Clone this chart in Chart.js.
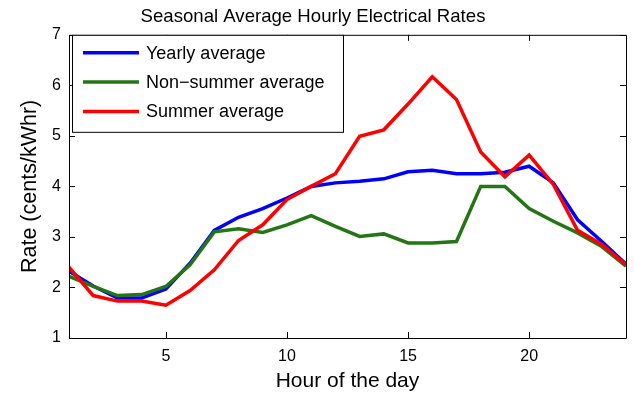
<!DOCTYPE html>
<html>
<head>
<meta charset="utf-8">
<script src="https://cdn.jsdelivr.net/npm/chart.js@4"></script>
<style>
  html, body { margin: 0; padding: 0; background: #fff; }
  #wrap { width: 634px; height: 406px; }
</style>
</head>
<body>
<div id="wrap"><canvas id="chart"></canvas></div>
<script>
const hours = [1, 2, 3, 4, 5, 6, 7, 8, 9, 10, 11, 12, 13, 14, 15, 16, 17, 18, 19, 20, 21, 22, 23, 24];
const yearly = [2.32, 2.03, 1.79, 1.79, 1.97, 2.48, 3.13, 3.39, 3.56, 3.77, 4.0, 4.07, 4.10, 4.15, 4.29, 4.32, 4.25, 4.25, 4.28, 4.40, 4.07, 3.34, 2.91, 2.46];
const nonSummer = [2.22, 2.02, 1.84, 1.86, 2.02, 2.45, 3.10, 3.16, 3.09, 3.24, 3.42, 3.21, 3.01, 3.06, 2.88, 2.88, 2.91, 4.0, 4.0, 3.56, 3.31, 3.08, 2.81, 2.42];
const summer = [2.40, 1.84, 1.73, 1.73, 1.65, 1.94, 2.35, 2.93, 3.24, 3.74, 4.0, 4.25, 4.99, 5.12, 5.63, 6.17, 5.72, 4.68, 4.19, 4.62, 4.04, 3.13, 2.85, 2.45];
const xTicks = [5, 10, 15, 20];
const yTicks = [1, 2, 3, 4, 5, 6, 7];

const FONT = 'Liberation Sans, Arial, Helvetica, sans-serif';

// MATLAB-style box with inward ticks, plus the legend box
const framePlugin = {
    id: 'frame',
    afterDatasetsDraw(chart) {
        const {ctx, chartArea: a, scales: {x, y}} = chart;
        const len = 6;
        ctx.save();
        ctx.strokeStyle = '#000';
        ctx.lineWidth = 1;
        ctx.beginPath();
        ctx.rect(a.left + 0.5, a.top + 0.5, a.right - a.left, a.bottom - a.top);
        xTicks.forEach(v => {
            const px = Math.round(x.getPixelForValue(v)) + 0.5;
            ctx.moveTo(px, a.bottom); ctx.lineTo(px, a.bottom - len);
            ctx.moveTo(px, a.top); ctx.lineTo(px, a.top + len);
        });
        yTicks.forEach(v => {
            const py = Math.round(y.getPixelForValue(v)) + 0.5;
            ctx.moveTo(a.left, py); ctx.lineTo(a.left + len, py);
            ctx.moveTo(a.right, py); ctx.lineTo(a.right - len, py);
        });
        ctx.stroke();

        // legend
        const bx = a.left + 3, by = a.top, bw = 271, bh = 97;
        ctx.fillStyle = '#fff';
        ctx.fillRect(bx, by, bw, bh);
        ctx.strokeRect(bx + 0.5, by + 0.5, bw, bh);
        ctx.font = '18px ' + FONT;
        ctx.textBaseline = 'middle';
        chart.data.datasets.forEach((ds, i) => {
            const ry = by + 18 + i * 29.3;
            ctx.strokeStyle = ds.borderColor;
            ctx.lineWidth = 3.5;
            ctx.beginPath();
            ctx.moveTo(bx + 11, ry); ctx.lineTo(bx + 67, ry);
            ctx.stroke();
            ctx.fillStyle = '#000';
            ctx.fillText(ds.label, bx + 74, ry + 1);
        });
        ctx.restore();
    }
};

const line = (label, data, color, order) => ({
    label: label,
    data: data,
    borderColor: color,
    backgroundColor: color,
    borderWidth: 3.5,
    pointRadius: 0,
    tension: 0,
    order: order
});

new Chart(document.getElementById('chart'), {
    type: 'line',
    data: {
        labels: hours,
        datasets: [
            line('Yearly average', yearly, '#0000ff', 3),
            line('Non\u2212summer average', nonSummer, '#247514', 2),
            line('Summer average', summer, '#ff0000', 1)
        ]
    },
    options: {
        responsive: true,
        maintainAspectRatio: false,
        animation: false,
        layout: { padding: { left: 0, right: 8, top: 0, bottom: 0 } },
        plugins: {
            legend: { display: false },
            tooltip: { enabled: false },
            title: {
                display: true,
                text: 'Seasonal Average Hourly Electrical Rates',
                color: '#000',
                font: { family: FONT, size: 18.6, weight: 'normal' },
                padding: { top: 6, bottom: 6.5 }
            }
        },
        scales: {
            x: {
                type: 'linear',
                min: 1,
                max: 24,
                afterBuildTicks: s => { s.ticks = xTicks.map(v => ({ value: v })); },
                afterFit: s => { s.height = 68; },
                grid: { display: false, drawTicks: false },
                border: { display: false },
                ticks: { color: '#000', padding: 9, font: { family: FONT, size: 16 } },
                title: {
                    display: true,
                    text: 'Hour of the day',
                    color: '#000',
                    font: { family: FONT, size: 21 },
                    padding: { top: 0, bottom: 12.4 }
                }
            },
            y: {
                min: 1,
                max: 7,
                afterBuildTicks: s => { s.ticks = yTicks.map(v => ({ value: v })); },
                afterFit: s => { s.width = 69; },
                grid: { display: false, drawTicks: false },
                border: { display: false },
                ticks: { color: '#000', padding: 8, font: { family: FONT, size: 16 } },
                title: {
                    display: true,
                    text: 'Rate (cents/kWhr)',
                    color: '#000',
                    font: { family: FONT, size: 21.5 },
                    padding: { top: 17.5, bottom: 0 }
                }
            }
        }
    },
    plugins: [framePlugin]
});
</script>
</body>
</html>
